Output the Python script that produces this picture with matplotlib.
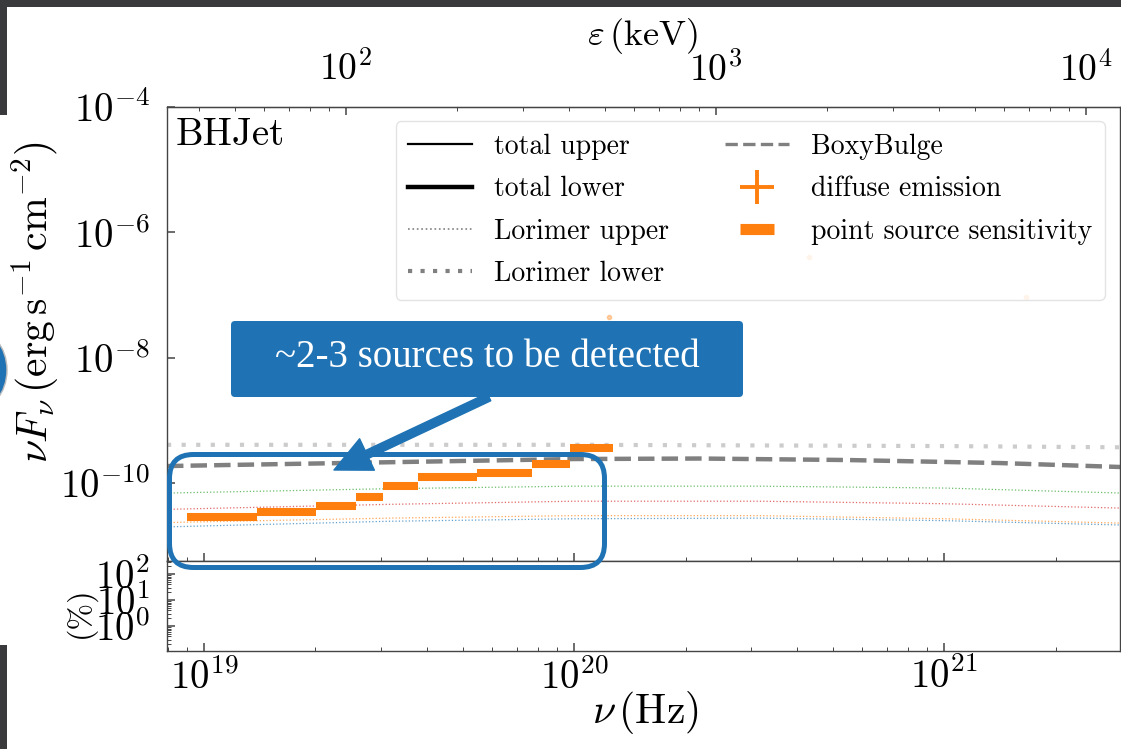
import matplotlib
matplotlib.use("Agg")
import matplotlib.pyplot as plt
import numpy as np
from matplotlib.lines import Line2D
from matplotlib.patches import FancyBboxPatch, FancyArrowPatch, Rectangle, Ellipse
from matplotlib.ticker import LogLocator, NullLocator

plt.rcParams["font.family"] = "serif"
plt.rcParams["font.serif"] = ["cmr10", "DejaVu Serif"]
plt.rcParams["mathtext.fontset"] = "cm"
plt.rcParams["axes.formatter.use_mathtext"] = True
plt.rcParams["axes.unicode_minus"] = False

H_KEV = 4.135667e-18  # keV s

# ---- data (log10 values) ----
# point source sensitivity: bin edges in log10(nu) and level in log10(nuFnu)
ps_edges = [18.955, 19.144, 19.303, 19.411, 19.484, 19.578, 19.737, 19.885, 19.990, 20.104]
ps_flux = [-10.537, -10.467, -10.367, -10.228, -10.048, -9.900, -9.845, -9.692, -9.442]

boxy_nu = [18.90, 19.53, 20.00, 20.34, 20.74, 21.15, 21.48]
boxy_flux = [-9.729, -9.665, -9.617, -9.609, -9.633, -9.681, -9.745]

lor_nu = [18.90, 19.50, 20.00, 20.50, 21.00, 21.48]
lor_lower = [-9.39, -9.39, -9.39, -9.40, -9.41, -9.43]
lor_green = [-10.16, -10.09, -10.05, -10.05, -10.08, -10.16]
lor_red = [-10.42, -10.34, -10.29, -10.29, -10.33, -10.40]
lor_orange = [-10.63, -10.56, -10.52, -10.52, -10.57, -10.64]
lor_blue = [-10.70, -10.61, -10.57, -10.56, -10.60, -10.67]

diffuse_nu = [20.094, 20.635, 21.220]
diffuse_flux = [-7.352, -6.396, -7.033]

W, H = 1121, 749
fig = plt.figure(figsize=(W / 100, H / 100), dpi=100)
fig.patch.set_facecolor("white")


def inch(x, y):
    return (x / 100, (H - y) / 100)


# slide background bits
dark = "#3a3a3c"
for (x0, y0, x1, y1) in [(0, 0, W, 7), (0, 0, 7, 115), (0, 645, 7, H)]:
    fig.add_artist(Rectangle(inch(x0, y1), (x1 - x0) / 100, (y1 - y0) / 100,
                             transform=fig.dpi_scale_trans, color=dark, lw=0, zorder=-5))
fig.add_artist(Ellipse(inch(-28, 370), 0.70, 0.84, transform=fig.dpi_scale_trans,
                       facecolor="#1f73b4", edgecolor="#bbbbbb", lw=1, zorder=-5))

ax = fig.add_axes([167 / W, 1 - 561 / H, 953 / W, 454 / H])
ax2 = fig.add_axes([167 / W, 1 - 651 / H, 953 / W, 90 / H], sharex=ax)

p = lambda a: 10 ** np.asarray(a)

for c, ys in zip(["C2", "C3", "C1", "C0"], [lor_green, lor_red, lor_orange, lor_blue]):
    ax.plot(p(lor_nu), p(ys), ls=":", lw=0.9, color=c, alpha=0.7)
ax.plot(p(lor_nu), p(lor_lower), ls=(0, (1, 2.5)), lw=3, color="gray", alpha=0.4)
ax.plot(p(boxy_nu), p(boxy_flux), ls="--", lw=3.2, color="gray")
ax.hlines(p(ps_flux), p(ps_edges[:-1]), p(ps_edges[1:]), color="C1", lw=5.8, zorder=4)
ax.plot(p(diffuse_nu), p(diffuse_flux), "o", color="C1", ms=3, alpha=0.35)

ax.set_xscale("log")
ax.set_yscale("log")
ax.set_xlim(10 ** 18.9, 10 ** 21.475)
ax.set_ylim(10 ** -11.244, 1e-4)
ax.yaxis.set_major_locator(LogLocator(base=100))
ax.yaxis.set_minor_locator(NullLocator())

ax2.set_yscale("log")
ax2.set_ylim(10 ** -0.96, 10 ** 2.5)
ax2.set_yticks([1, 10, 100])

spine_c = "#444444"
for a in (ax, ax2):
    for s in a.spines.values():
        s.set_color(spine_c)
        s.set_linewidth(1.0)
    a.tick_params(which="both", direction="in", colors=spine_c, labelcolor="black", labelsize=28)
    a.tick_params(which="major", length=6, width=1.1)
    a.tick_params(which="minor", length=3, width=0.7)
    a.tick_params(axis="y", pad=12)
ax.tick_params(labelbottom=False)
ax2.tick_params(axis="x", pad=5)

sec = ax.secondary_xaxis("top", functions=(lambda nu: nu * H_KEV, lambda e: e / H_KEV))
sec.tick_params(which="both", direction="in", colors=spine_c, labelcolor="black", labelsize=27, pad=14)
sec.tick_params(which="major", length=6, width=1.1)
sec.tick_params(which="minor", length=3, width=0.7)

ax.text(0.009, 0.978, "BHJet", transform=ax.transAxes, ha="left", va="top", fontsize=28)

handles = [
    Line2D([], [], color="black", lw=1.6),
    Line2D([], [], color="black", lw=3.2),
    Line2D([], [], color="gray", ls=":", lw=1.2),
    Line2D([], [], color="gray", ls=(0, (1, 2)), lw=3),
    Line2D([], [], color="gray", ls="--", lw=2.4),
    Line2D([], [], color="C1", marker="+", ls="none", ms=24, mew=2.8),
    Line2D([], [], color="C1", marker="_", ls="none", ms=24, mew=8),
]
labels = ["total upper", "total lower", "Lorimer upper", "Lorimer lower",
          "BoxyBulge", "diffuse emission", "point source sensitivity"]
leg = ax.legend(handles, labels, ncol=2, loc="upper right", bbox_to_anchor=(0.984, 0.969),
                borderaxespad=0, fontsize=20, labelspacing=0.58, handlelength=2.3,
                handletextpad=0.8, columnspacing=2.0, borderpad=0.45, framealpha=0.8)
leg.get_frame().set_edgecolor("#dddddd")
leg.set_zorder(10)

fig.text(35 / W, 1 - 302 / H, r"$\nu F_\nu\,(\mathrm{erg\,s^{-1}\,cm^{-2}})$",
         rotation=90, ha="center", va="center", fontsize=30)
fig.text(80 / W, 1 - 612 / H, "(%)", rotation=90, ha="center", va="center", fontsize=23)
fig.text(645 / W, 1 - 713 / H, r"$\nu\,(\mathrm{Hz})$", ha="center", va="center", fontsize=30)
fig.text(642 / W, 1 - 36 / H, r"$\varepsilon\,(\mathrm{keV})$", ha="center", va="center", fontsize=26)

# slide annotation
blue = "#1f73b4"
fig.add_artist(FancyBboxPatch(inch(231, 397), 5.12, 0.76, boxstyle="round,pad=0,rounding_size=0.04",
                              transform=fig.dpi_scale_trans, facecolor=blue, edgecolor="none", zorder=20))
fig.text(487 / W, 1 - 358 / H, "~2-3 sources to be detected", ha="center", va="center",
         color="white", fontsize=28, family="Liberation Serif", zorder=21)
fig.add_artist(FancyBboxPatch(inch(169.5, 567.5), 4.35, 1.13, boxstyle="round,pad=0,rounding_size=0.24",
                              transform=fig.dpi_scale_trans, facecolor="none", edgecolor=blue,
                              lw=3.6, zorder=20))
fig.add_artist(FancyArrowPatch(inch(489, 397), inch(334, 470), transform=fig.dpi_scale_trans,
                               arrowstyle="simple,head_length=1.05,head_width=1.0,tail_width=0.24",
                               mutation_scale=25, color=blue, shrinkA=0, shrinkB=0, zorder=20))

fig.savefig("out.png", dpi=100)
